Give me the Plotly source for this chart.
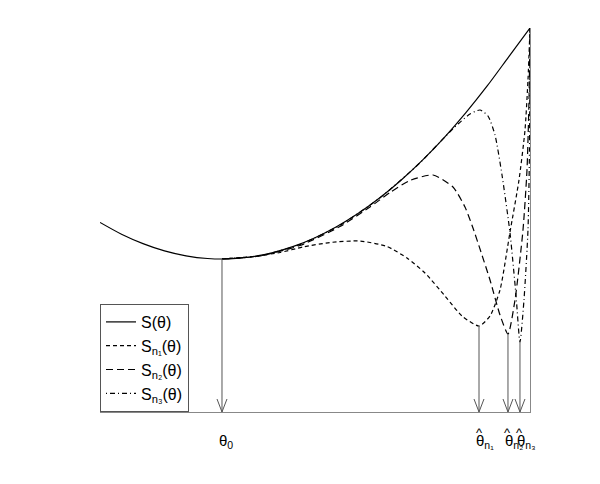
import plotly.graph_objects as go

# ---- data ----
theta_S = [0.00, 0.05, 0.10, 0.15, 0.20, 0.25, 0.30, 0.35, 0.40, 0.45, 0.50,
           0.55, 0.60, 0.65, 0.70, 0.75, 0.80, 0.85, 0.90, 0.95, 1.00]
S_vals = [1.896, 1.778, 1.684, 1.611, 1.562, 1.535, 1.531, 1.550, 1.592, 1.656, 1.743,
          1.853, 1.985, 2.140, 2.318, 2.519, 2.742, 2.989, 3.258, 3.549, 3.840]

theta_n1 = [0.2837, 0.3558, 0.4186, 0.4721, 0.5349, 0.6047, 0.6674, 0.7140, 0.7558, 0.8023,
            0.8419, 0.8814, 0.9070, 0.9302, 0.9535, 0.9744, 0.9884, 0.9953, 1.0000]
Sn1_vals = [1.530, 1.555, 1.595, 1.650, 1.695, 1.710, 1.655, 1.540, 1.390, 1.160,
            0.960, 0.860, 0.960, 1.220, 1.800, 2.320, 2.820, 3.320, 3.840]

theta_n2 = [0.2837, 0.3721, 0.4651, 0.5581, 0.6279, 0.6744, 0.7209, 0.7744, 0.8209, 0.8488,
            0.8674, 0.8860, 0.9070, 0.9302, 0.9488, 0.9651, 0.9837, 0.9930, 0.9977, 1.0000]
Sn2_vals = [1.530, 1.560, 1.665, 1.855, 2.050, 2.195, 2.315, 2.370, 2.250, 2.050,
            1.840, 1.600, 1.320, 0.970, 0.780, 1.120, 1.820, 2.420, 3.120, 3.840]

theta_n3 = [0.2837, 0.3721, 0.4651, 0.5581, 0.6512, 0.7442, 0.8023, 0.8326, 0.8605, 0.8837,
            0.9023, 0.9186, 0.9349, 0.9535, 0.9674, 0.9767, 0.9860, 0.9953, 0.9988, 1.0000]
Sn3_vals = [1.530, 1.562, 1.675, 1.868, 2.142, 2.492, 2.752, 2.880, 2.980, 3.020,
            2.960, 2.770, 2.370, 1.790, 1.170, 0.700, 1.120, 1.820, 2.620, 3.840]

# minimisers marked by arrows
arrow_theta = [0.2837, 0.8814, 0.9488, 0.9767]
arrow_value = [1.530, 0.860, 0.780, 0.700]
arrow_labels = ["θ<sub>0</sub>", "θ<sub>n₁</sub>", "θ<sub>n₂</sub>", "θ<sub>n₃</sub>"]
arrow_hat = [False, True, True, True]

FONT = "Liberation Sans, Arial, Helvetica, sans-serif"
fig = go.Figure()

fig.add_trace(go.Scatter(x=theta_S, y=S_vals, mode="lines", name="S(θ)",
                         line=dict(color="black", width=1.2, shape="spline", smoothing=0.8)))
fig.add_trace(go.Scatter(x=theta_n1, y=Sn1_vals, mode="lines", name="S<sub>n₁</sub>(θ)",
                         line=dict(color="black", width=1.2, dash="4px,3px", shape="spline", smoothing=0.6)))
fig.add_trace(go.Scatter(x=theta_n2, y=Sn2_vals, mode="lines", name="S<sub>n₂</sub>(θ)",
                         line=dict(color="black", width=1.2, dash="7px,4px", shape="spline", smoothing=0.6)))
fig.add_trace(go.Scatter(x=theta_n3, y=Sn3_vals, mode="lines", name="S<sub>n₃</sub>(θ)",
                         line=dict(color="black", width=1.2, dash="1px,3px,5px,3px", shape="spline", smoothing=0.6)))

# arrows: vertical shaft + open V head
head_dx = 0.0116
head_dy = 0.13
for t, v in zip(arrow_theta, arrow_value):
    fig.add_trace(go.Scatter(x=[t, t], y=[v, 0], mode="lines", showlegend=False,
                             hoverinfo="skip", line=dict(color="#555555", width=1)))
    fig.add_trace(go.Scatter(x=[t - head_dx, t, t + head_dx], y=[head_dy, 0, head_dy],
                             mode="lines", showlegend=False, hoverinfo="skip",
                             line=dict(color="#555555", width=1)))

for t, lab, hat in zip(arrow_theta, arrow_labels, arrow_hat):
    fig.add_annotation(x=t, y=-0.076, xref="x", yref="paper", text=lab, showarrow=False,
                       xanchor="left", yanchor="middle", xshift=-5,
                       font=dict(family=FONT, size=15, color="black"))
    if hat:
        fig.add_annotation(x=t, y=-0.054, xref="x", yref="paper", text="^", showarrow=False,
                           xanchor="center", yanchor="middle", xshift=0,
                           font=dict(family=FONT, size=13, color="black"))

fig.update_layout(
    width=600, height=484,
    margin=dict(l=100, r=70, t=28, b=72),
    paper_bgcolor="white", plot_bgcolor="white",
    font=dict(family=FONT, size=16, color="black"),
    showlegend=True,
    legend=dict(x=0, y=0, xanchor="left", yanchor="bottom",
                bordercolor="#555555", borderwidth=1, bgcolor="white",
                font=dict(family=FONT, size=16), itemwidth=30),
    xaxis=dict(range=[0, 1], showgrid=False, zeroline=False, showticklabels=False,
               ticks="", showline=True, linecolor="#888888", linewidth=1),
    yaxis=dict(range=[0, 3.84], showgrid=False, zeroline=False, showticklabels=False,
               ticks="", showline=True, linecolor="#888888", linewidth=1, side="right"),
)

fig.write_html("out.html", config={"displayModeBar": False},
               post_script="document.body.style.margin='0';")
